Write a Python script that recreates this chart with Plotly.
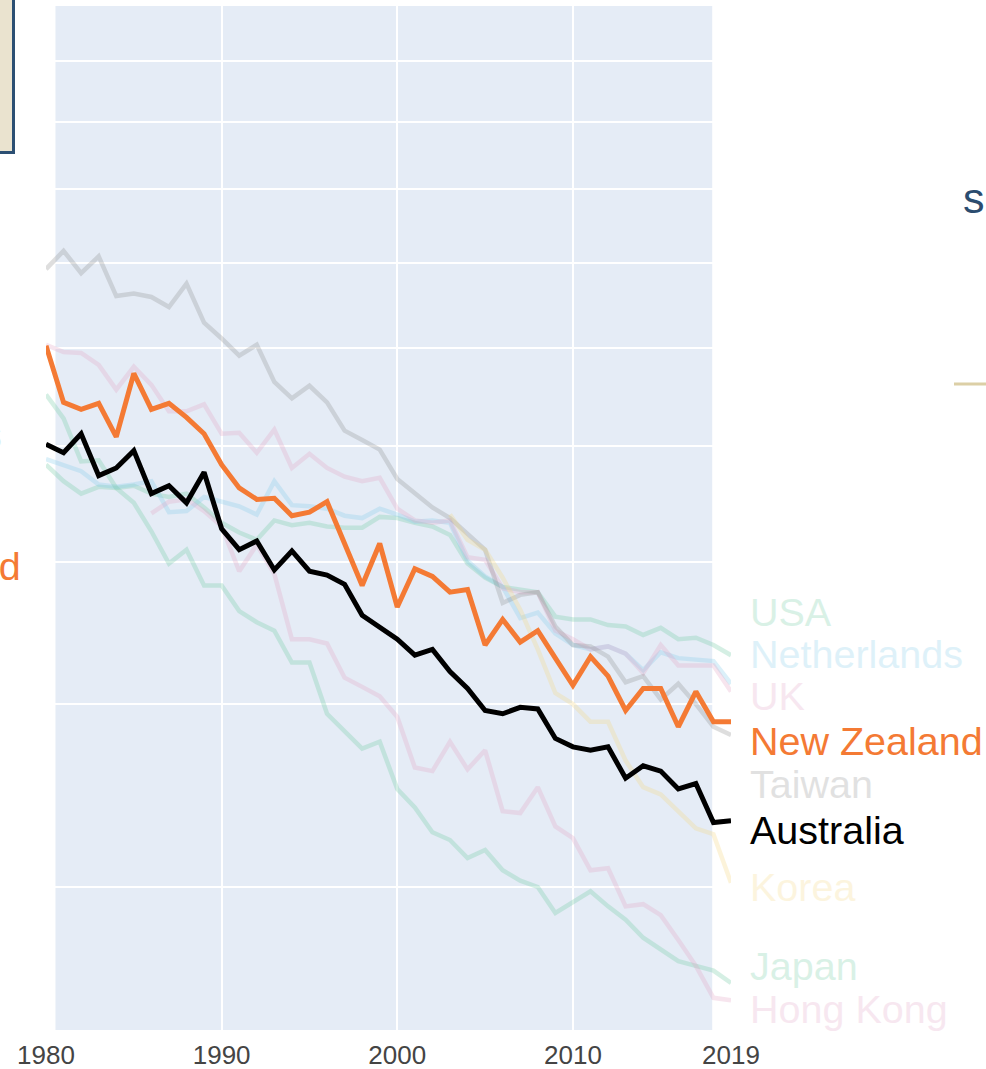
import plotly.graph_objects as go

years = list(range(1980, 2020))

usa = [5.83, 5.68, 5.57, 5.63, 5.62, 5.64, 5.57, 5.54, 5.57, 5.45,
       5.32, 5.24, 5.18, 5.34, 5.30, 5.32, 5.29, 5.28, 5.28, 5.37,
       5.36, 5.32, 5.29, 5.22, 4.99, 4.88, 4.81, 4.79, 4.77, 4.59,
       4.57, 4.57, 4.53, 4.52, 4.46, 4.51, 4.43, 4.44, 4.39, 4.32]
netherlands = [5.88, 5.83, 5.77, 5.65, 5.63, 5.65, 5.68, 5.41, 5.42, 5.54,
               5.50, 5.46, 5.39, 5.68, 5.47, 5.46, 5.44, 5.38, 5.36, 5.44,
               5.39, 5.33, 5.34, 5.32, 5.01, 4.89, 4.81, 4.58, 4.62, 4.47,
               4.39, 4.36, 4.38, 4.33, 4.22, 4.34, 4.30, 4.29, 4.28, 4.13]
uk = [7.04, 6.96, 6.95, 6.82, 6.56, 6.80, 6.61, 6.34, 6.34, 6.41,
      6.12, 6.13, 5.94, 6.16, 5.80, 5.93, 5.80, 5.72, 5.68, 5.71,
      5.44, 5.34, 5.32, 5.34, 5.04, 5.02, 4.80, 4.77, 4.77, 4.49,
      4.43, 4.36, 4.38, 4.33, 4.20, 4.39, 4.25, 4.25, 4.25, 4.08]
new_zealand = [7.03, 6.43, 6.36, 6.42, 6.09, 6.73, 6.36, 6.42, 6.28, 6.12,
               5.83, 5.62, 5.52, 5.53, 5.38, 5.41, 5.50, 5.15, 4.82, 5.15,
               4.66, 4.95, 4.89, 4.77, 4.79, 4.39, 4.57, 4.41, 4.49, 4.30,
               4.12, 4.31, 4.18, 3.96, 4.10, 4.10, 3.86, 4.08, 3.89, 3.89]
taiwan = [7.93, 8.16, 7.88, 8.09, 7.60, 7.63, 7.59, 7.47, 7.75, 7.29,
          7.11, 6.92, 7.04, 6.64, 6.47, 6.60, 6.43, 6.15, 6.06, 5.97,
          5.70, 5.57, 5.45, 5.36, 5.23, 5.10, 4.69, 4.75, 4.77, 4.52,
          4.39, 4.38, 4.31, 4.14, 4.18, 4.03, 4.13, 4.00, 3.86, 3.81]
australia = [6.02, 5.94, 6.12, 5.73, 5.80, 5.96, 5.57, 5.64, 5.49, 5.76,
             5.27, 5.10, 5.17, 4.94, 5.09, 4.93, 4.90, 4.83, 4.60, 4.51,
             4.43, 4.32, 4.36, 4.21, 4.10, 3.96, 3.94, 3.98, 3.97, 3.79,
             3.74, 3.72, 3.74, 3.56, 3.63, 3.60, 3.50, 3.53, 3.32, 3.33]
korea = [None] * 23 + [5.39, 5.18, 5.10, 4.88, 4.64, 4.36, 4.07,
                       4.00, 3.89, 3.89, 3.66, 3.51, 3.47, 3.38, 3.29, 3.26, 3.02]
japan = [6.51, 6.27, 5.86, 5.87, 5.62, 5.49, 5.25, 4.99, 5.10, 4.82,
         4.82, 4.63, 4.55, 4.49, 4.27, 4.27, 3.94, 3.83, 3.73, 3.77,
         3.50, 3.40, 3.27, 3.23, 3.14, 3.18, 3.08, 3.03, 3.00, 2.88,
         2.93, 2.98, 2.91, 2.85, 2.77, 2.72, 2.67, 2.65, 2.63, 2.58]
hong_kong = [None] * 6 + [5.40, 5.50, 5.52, 5.42,
             5.29, 4.93, 5.14, 4.91, 4.43, 4.43, 4.40, 4.17, 4.11, 4.05,
             3.92, 3.62, 3.60, 3.77, 3.61, 3.72, 3.38, 3.37, 3.51, 3.30,
             3.24, 3.08, 3.09, 2.91, 2.92, 2.87, 2.76, 2.65, 2.52, 2.51]

faded = [
    ("USA", usa, "#6CC9A0", 612),
    ("Netherlands", netherlands, "#7FCBEA", 654),
    ("UK", uk, "#E3A3C4", 696),
    ("Taiwan", taiwan, "#8C8C8C", 784),
    ("Korea", korea, "#F5D77E", 887),
    ("Japan", japan, "#6CC9A0", 966),
    ("Hong Kong", hong_kong, "#E3A3C4", 1009),
]
highlight = [
    ("New Zealand", new_zealand, "#F47A34", 741),
    ("Australia", australia, "#000000", 830),
]

FADE = 0.28
fig = go.Figure()
for name, vals, col, _ in faded:
    fig.add_trace(go.Scatter(x=years, y=vals, mode="lines", name=name,
                             line=dict(color=col, width=4.5), opacity=FADE,
                             connectgaps=False, showlegend=False))
for name, vals, col, _ in highlight:
    fig.add_trace(go.Scatter(x=years, y=vals, mode="lines", name=name,
                             line=dict(color=col, width=5),
                             showlegend=False))

# layout geometry helpers (pixels -> paper)
L, R, T, B, W, H = 46, 255, 6, 39, 986, 1069
PW, PH = W - L - R, H - T - B


def px(xp):
    return (xp - L) / PW


def py(yp):
    return (H - B - yp) / PH


FONT = "Liberation Sans, Arial, sans-serif"
LABEL_SIZE = 39.5
annotations = []
for name, vals, col, ypix in faded + highlight:
    is_faded = any(name == f[0] for f in faded)
    annotations.append(dict(
        x=2019, xref="x", xshift=17, xanchor="left",
        y=py(ypix), yref="paper", yanchor="middle",
        text=name, showarrow=False,
        font=dict(family=FONT, size=LABEL_SIZE, color=col),
        opacity=0.25 if is_faded else 1.0))

# partial labels of a neighbouring panel (left) and title (right)
annotations.append(dict(x=px(23), xref="paper", xanchor="right",
                        y=py(566), yref="paper", yanchor="middle",
                        text="New Zealand", showarrow=False,
                        font=dict(family=FONT, size=LABEL_SIZE,
                                  color="#F47A34")))
annotations.append(dict(x=px(4), xref="paper", xanchor="right",
                        y=py(434), yref="paper", yanchor="middle",
                        text="Netherlands", showarrow=False, opacity=0.3,
                        font=dict(family=FONT, size=LABEL_SIZE,
                                  color="#7FCBEA")))
annotations.append(dict(x=px(961), xref="paper", xanchor="left",
                        y=py(198), yref="paper", yanchor="middle",
                        text="sl", showarrow=False,
                        font=dict(family=FONT, size=43, color="#2B4C6F")))

shapes = [
    dict(type="rect", xref="x", yref="paper", x0=1980.54, x1=2017.93,
         y0=0, y1=1, fillcolor="#E5ECF6", line=dict(width=0), layer="below"),
    dict(type="rect", xref="paper", yref="paper", x0=px(-80), x1=px(13.5),
         y0=py(152.5), y1=py(-80), fillcolor="#EAE3CF",
         line=dict(color="#2C4F73", width=3), layer="above"),
    dict(type="line", xref="paper", yref="paper", x0=px(954), x1=px(1000),
         y0=py(384), y1=py(384), line=dict(color="#DCCFA6", width=3)),
]

fig.update_layout(
    width=W, height=H,
    margin=dict(l=L, r=R, t=T, b=B, pad=0),
    paper_bgcolor="white", plot_bgcolor="white",
    font=dict(family=FONT),
    showlegend=False,
    hovermode=False,
    annotations=annotations,
    shapes=shapes,
    xaxis=dict(range=[1980, 2019], tickvals=[1980, 1990, 2000, 2010, 2019],
               ticktext=["1980", "1990", "2000", "2010", "2019"],
               showgrid=True, gridcolor="white", gridwidth=1.5,
               zeroline=False, showline=False, ticks="",
               ticklabelstandoff=7,
               tickfont=dict(family=FONT, size=26, color="#444444"),
               automargin=False),
    yaxis=dict(type="log", range=[0.37943, 1.07900],
               tickvals=[3, 4, 5, 6, 7, 8, 9, 10, 11],
               showticklabels=False, showgrid=True, gridcolor="white",
               gridwidth=1.5, zeroline=False, showline=False, ticks="",
               automargin=False),
)

fig.write_html("out.html",
               config={"displayModeBar": False},
               post_script="document.body.style.margin='0';"
                           "document.body.style.padding='0';")
